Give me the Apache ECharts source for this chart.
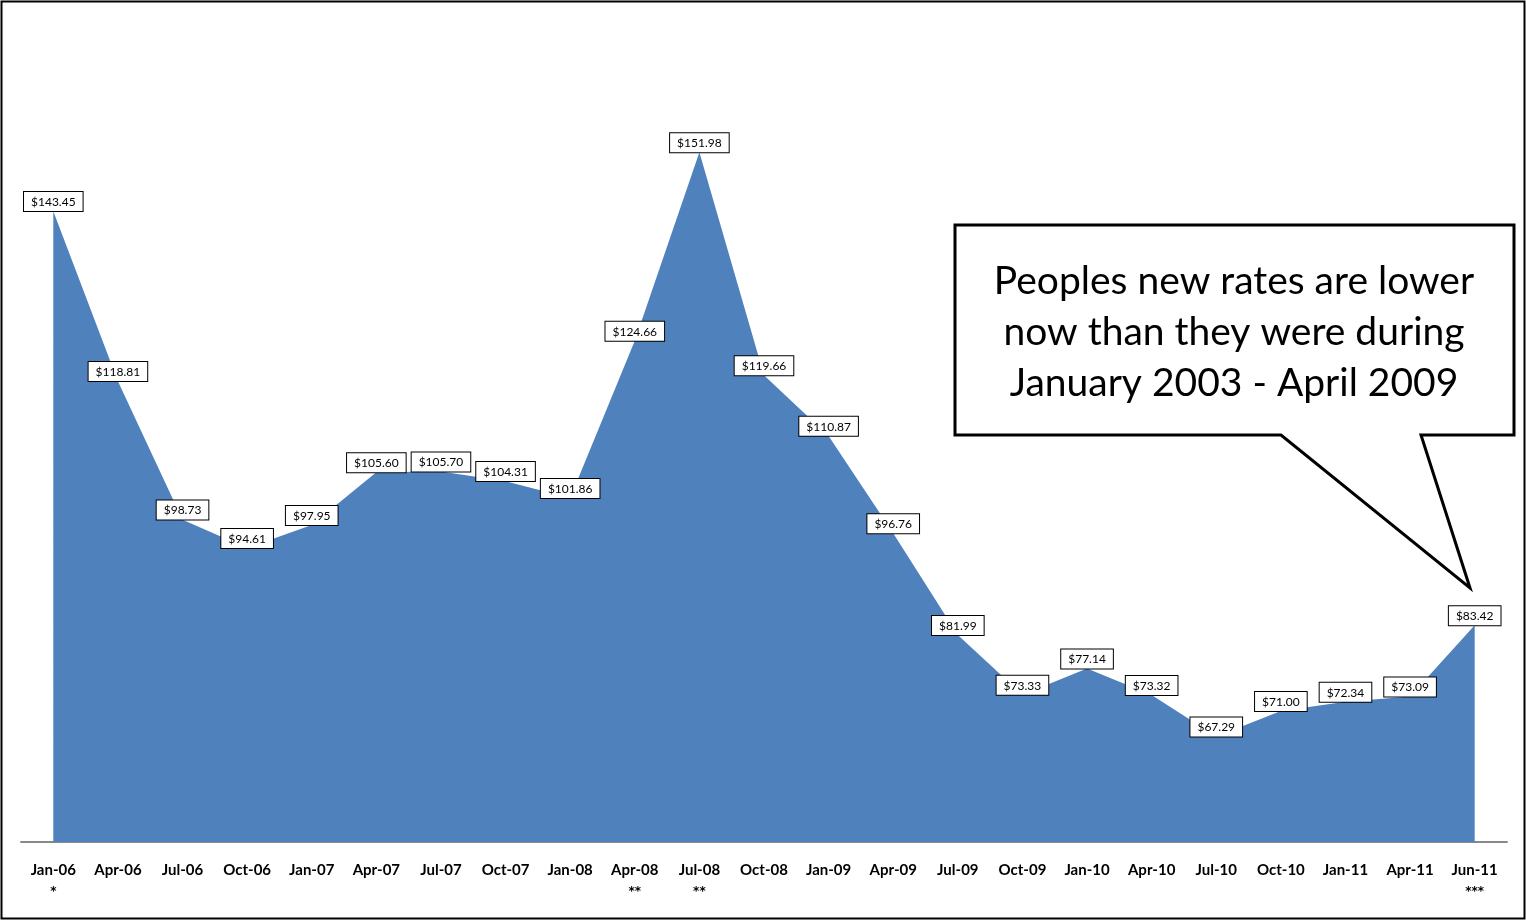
<!DOCTYPE html>
<html>
<head>
<meta charset="utf-8">
<script src="https://cdn.jsdelivr.net/npm/echarts@6/dist/echarts.min.js"></script>
<style>
html,body{margin:0;padding:0;background:#fff;}
#main{width:1526px;height:920px;}
</style>
</head>
<body>
<div id="main"></div>
<script>
const categories = ["Jan-06","Apr-06","Jul-06","Oct-06","Jan-07","Apr-07","Jul-07","Oct-07","Jan-08","Apr-08","Jul-08","Oct-08","Jan-09","Apr-09","Jul-09","Oct-09","Jan-10","Apr-10","Jul-10","Oct-10","Jan-11","Apr-11","Jun-11"];
const footnoteMarks = ["*","","","","","","","","","**","**","","","","","","","","","","","","***"];
const rates = [143.45,118.81,98.73,94.61,97.95,105.60,105.70,104.31,101.86,124.66,151.98,119.66,110.87,96.76,81.99,73.33,77.14,73.32,67.29,71.00,72.34,73.09,83.42];
const calloutText = "Peoples new rates are lower\nnow than they were during\nJanuary 2003 - April 2009";

const chart = echarts.init(document.getElementById('main'));
const font = 'Lato, "Open Sans", sans-serif';
chart.setOption({
  animation: false,
  backgroundColor: '#fff',
  grid: {left: 21, right: 19, top: 97, bottom: 78},
  xAxis: {
    type: 'category',
    data: categories,
    boundaryGap: true,
    axisLine: {lineStyle: {color: '#888', width: 2}},
    axisTick: {show: false},
    axisLabel: {
      interval: 0,
      margin: 19,
      color: '#000',
      fontFamily: font,
      fontWeight: 'bold',
      fontSize: 15,
      lineHeight: 19,
      formatter: function (v, i) {
        return footnoteMarks[i] ? '{n|' + v + '}\n{s|' + footnoteMarks[i] + '}' : '{n|' + v + '}';
      },
      rich: {
        n: {fontFamily: font, fontWeight: 'bold', fontSize: 15, lineHeight: 19, color: '#000'},
        s: {fontFamily: '"DejaVu Sans", sans-serif', fontWeight: 'bold', fontSize: 12, lineHeight: 20, color: '#000', padding: [4, 0, 0, 0]}
      }
    }
  },
  yAxis: {
    type: 'value',
    min: 52,
    max: 160,
    show: false,
    splitLine: {show: false}
  },
  series: [{
    type: 'line',
    data: rates,
    showSymbol: true,
    symbol: 'circle',
    symbolSize: 0.1,
    itemStyle: {color: '#4F81BD'},
    lineStyle: {width: 0, color: '#4F81BD'},
    areaStyle: {color: '#4F81BD', opacity: 1},
    label: {
      show: true,
      position: 'top',
      distance: 0,
      formatter: function (p) { return '$' + p.value.toFixed(2); },
      color: '#000',
      fontFamily: font,
      fontSize: 12,
      backgroundColor: '#fff',
      borderColor: '#000',
      borderWidth: 1,
      padding: [4, 7, 3, 7]
    }
  }],
  graphic: [
    {
      type: 'rect',
      shape: {x: 1.5, y: 1.5, width: 1523, height: 917},
      style: {fill: 'none', stroke: '#000', lineWidth: 2},
      z: 100
    },
    {
      type: 'polygon',
      shape: {points: [[955,225],[1514,225],[1514,435],[1421,435],[1470,588],[1281,435],[955,435]]},
      style: {fill: '#fff', stroke: '#000', lineWidth: 3},
      z: 100
    },
    {
      type: 'text',
      x: 1234,
      y: 332,
      style: {
        text: calloutText,
        fill: '#000',
        font: '39px ' + font,
        align: 'center',
        verticalAlign: 'middle',
        lineHeight: 51
      },
      z: 101
    }
  ]
});
</script>
</body>
</html>
